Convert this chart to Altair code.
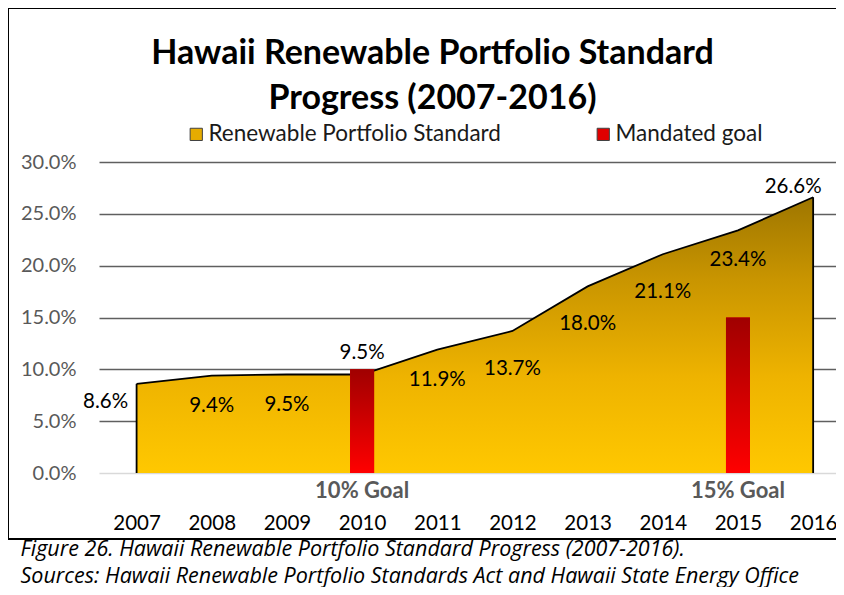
import altair as alt
import pandas as pd

# ---- data ----
years = [2007, 2008, 2009, 2010, 2011, 2012, 2013, 2014, 2015, 2016]
rps_values = [8.6, 9.4, 9.5, 9.5, 11.9, 13.7, 18.0, 21.1, 23.4, 26.6]
goal_years = [2010, 2015]
goal_values = [10.0, 15.0]
goal_labels = ["10% Goal", "15% Goal"]
series_names = ["Renewable Portfolio Standard", "Mandated goal"]
y_ticks = [0, 5, 10, 15, 20, 25, 30]
title_lines = ["Hawaii Renewable Portfolio Standard", "Progress (2007-2016)"]
caption_lines = [
    "Figure 26. Hawaii Renewable Portfolio Standard Progress (2007-2016).",
    "Sources: Hawaii Renewable Portfolio Standards Act and Hawaii State Energy Office",
]

rps = pd.DataFrame({"year": years, "value": rps_values})
rps["label"] = [f"{v:.1f}%" for v in rps_values]
goals = pd.DataFrame({
    "year": goal_years,
    "value": goal_values,
    "label": goal_labels,
    "series": ["Mandated goal"] * len(goal_years),
})
frame = pd.DataFrame({"k": [0]})

FONT = "Lato"
xscale = alt.Scale(domain=[2006.5, 2016.304], nice=False, zero=False, padding=0)
yscale = alt.Scale(domain=[0, 30], nice=False, zero=True, padding=0)

x_axis = alt.Axis(
    values=years, format="d", ticks=False, domain=False, grid=False,
    labelFont=FONT, labelFontSize=20.5, labelColor="#000000", labelPadding=40,
    title=caption_lines, titleFont="Open Sans", titleFontSize=21.5,
    titleFontStyle="italic", titleFontWeight="normal", titleColor="#000000",
    titleAnchor="start", titleAlign="left", titleX=-79, titleY=82,
    titleBaseline="alphabetic", titleLineHeight=27,
)
y_axis = alt.Axis(
    values=y_ticks, labelExpr="format(datum.value, '.1f') + '%'",
    ticks=False, domain=False, labelFont=FONT, labelFontSize=20,
    labelColor="#595959", labelPadding=23, title=None,
    gridColor={"condition": {"test": "datum.value == 0", "value": "#d9d9d9"}, "value": "#5f5f5f"},
    gridWidth=1.5,
)
X = alt.X("year:Q", scale=xscale, axis=x_axis)
Y = alt.Y("value:Q", scale=yscale, axis=y_axis)

gold = alt.LinearGradient(
    gradient="linear", x1=0, y1=1, x2=0, y2=0,
    stops=[
        alt.GradientStop(offset=0, color="#FFC800"),
        alt.GradientStop(offset=0.35, color="#EEB300"),
        alt.GradientStop(offset=0.7, color="#C99500"),
        alt.GradientStop(offset=1, color="#9E7600"),
    ],
)
red = alt.LinearGradient(
    gradient="linear", x1=0, y1=1, x2=0, y2=0,
    stops=[
        alt.GradientStop(offset=0, color="#FF0000"),
        alt.GradientStop(offset=1, color="#A00000"),
    ],
)

area = alt.Chart(rps).mark_area(color=gold).encode(x=X, y=Y)
line = alt.Chart(rps).mark_line(color="black", strokeWidth=1.8).encode(x=X, y=Y)
edges = alt.Chart(rps).transform_filter(
    alt.FieldOneOfPredicate(field="year", oneOf=[years[0], years[-1]])
).mark_rule(color="black", strokeWidth=1.8).encode(x=X, y=Y, y2=alt.datum(0))

bars_legend = alt.Chart(goals).mark_bar(size=24).encode(
    x=X, y=Y,
    color=alt.Color(
        "series:N",
        scale=alt.Scale(domain=series_names, range=["#E6AC00", "#E00000"]),
        legend=alt.Legend(
            title=None, orient="none", legendX=86, legendY=-39, direction="horizontal",
            labelFont=FONT, labelFontSize=22.5, labelColor="#1a1a1a", labelLimit=400,
            symbolType="square", symbolSize=150, symbolStrokeColor="#404040",
            symbolStrokeWidth=1, columnPadding=91, labelOffset=1,
        ),
    ),
)
bars = alt.Chart(goals).mark_bar(size=24, color=red).encode(x=X, y=Y)


def labels(sel_years, dx, dy):
    return alt.Chart(rps).transform_filter(
        alt.FieldOneOfPredicate(field="year", oneOf=sel_years)
    ).mark_text(font=FONT, fontSize=20.5, color="#000000", dx=dx, dy=dy).encode(
        x=X, y=Y, text="label:N"
    )


lab_layers = [
    labels([2007], -31, 18),
    labels([2008, 2009, 2011, 2015], 0, 30),
    labels([2012, 2013, 2014], 0, 38),
    labels([2010], 0, -22),
    labels([2016], -20, -10),
]

goal_text = alt.Chart(goals).mark_text(
    font=FONT, fontSize=22, fontWeight="bold", color="#595959", dy=18
).encode(x=X, y=alt.YDatum(0, scale=yscale, axis=y_axis), text="label:N")

border_left = alt.Chart(frame).mark_rule(color="black", strokeWidth=2).encode(
    x=alt.value(-91), y=alt.value(-154), y2=alt.value(377))
border_top = alt.Chart(frame).mark_rule(color="black", strokeWidth=2).encode(
    x=alt.value(-91), x2=alt.value(760), y=alt.value(-154))
border_bottom = alt.Chart(frame).mark_rule(color="black", strokeWidth=2).encode(
    x=alt.value(-91), x2=alt.value(760), y=alt.value(377))

chart = alt.layer(
    area, line, edges, bars_legend, bars, *lab_layers, goal_text,
    border_left, border_top, border_bottom,
).properties(
    width=737, height=311,
    autosize=alt.AutoSizeParams(type="none"),
    padding={"left": 91, "top": 154, "right": 0, "bottom": 114},
    title=alt.TitleParams(
        text=title_lines, font=FONT, fontSize=34, fontWeight="bold", color="#000000",
        anchor="middle", dx=-35, lineHeight=45, offset=-109,
    ),
    background="white",
).configure_view(strokeWidth=0)

chart.save("out.html", embed_options={"renderer": "svg", "actions": False})
